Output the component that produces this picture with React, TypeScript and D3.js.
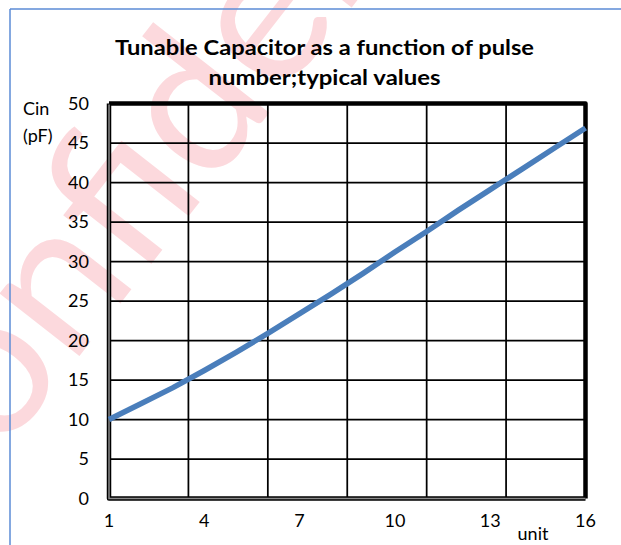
import React from "react";
import * as d3 from "d3";

const pulses = [1, 2, 3, 4, 5, 6, 7, 8, 9, 10, 11, 12, 13, 14, 15, 16];
const capacitance = [10, 12.0, 14.0, 16.2, 18.5, 20.9, 23.4, 25.9, 28.5, 31.2, 33.8, 36.5, 39.1, 41.7, 44.3, 46.9];
const xTickLabels = [1, 4, 7, 10, 13, 16];
const xGridValues = [3.5, 6, 8.5, 11, 13.5];
const yTickValues = [0, 5, 10, 15, 20, 25, 30, 35, 40, 45, 50];
const titleLines = ["Tunable Capacitor as a function of pulse", "number;typical values"];
const yAxisTitle = ["Cin", "(pF)"];
const xAxisTitle = "unit";
const watermark = "Confidential";

const W = 621;
const H = 545;
const FONT = "Lato, 'Open Sans', sans-serif";

export default function App() {
  const x = d3.scaleLinear().domain([1, 16]).range([109, 585.5]);
  const y = d3.scaleLinear().domain([0, 50]).range([498.5, 103.5]);
  const line = d3
    .line<number>()
    .x((_, i) => x(pulses[i]))
    .y((d) => y(d))
    .curve(d3.curveLinear);

  const x0 = x(1), x1 = x(16), y0 = y(0), y1 = y(50);

  return (
    <svg
      width={W}
      height={H}
      style={{ position: "absolute", left: 0, top: 0, background: "#fff" }}
      fontFamily={FONT}
    >
      <rect x={0} y={0} width={W} height={H} fill="#fff" />
      {/* watermark */}
      <text
        transform={`translate(-80,560) rotate(-52)`}
        fontSize={200}
        fill="#fcd9dd"
        fontFamily={FONT}
      >
        {watermark}
      </text>
      {/* outer chart frame */}
      <line x1={10} y1={9} x2={W} y2={9} stroke="#5b8bd6" strokeWidth={1.5} />
      <line x1={10} y1={9} x2={10} y2={H} stroke="#5b8bd6" strokeWidth={1.5} />

      {/* title */}
      {titleLines.map((t, i) => (
        <text
          key={t}
          x={324.5}
          y={55 + i * 30}
          textAnchor="middle"
          fontWeight="bold"
          fontSize={20}
          fill="#000"
          textLength={i === 0 ? 419 : 232}
          lengthAdjust="spacingAndGlyphs"
        >
          {t}
        </text>
      ))}

      {/* horizontal gridlines */}
      {yTickValues.slice(1, -1).map((v) => (
        <line key={"h" + v} x1={x0} x2={x1} y1={y(v)} y2={y(v)} stroke="#000" strokeWidth={1.75} />
      ))}
      {/* vertical gridlines */}
      {xGridValues.map((v) => (
        <line key={"v" + v} x1={x(v)} x2={x(v)} y1={y1} y2={y0} stroke="#000" strokeWidth={1.75} />
      ))}

      {/* plot border (top/right) */}
      <path
        d={`M${x0},${y1} L${x1},${y1} L${x1},${y0}`}
        fill="none"
        stroke="#000"
        strokeWidth={4.5}
        strokeLinejoin="round"
      />
      {/* axes */}
      <path
        d={`M${x0},${y1} L${x0},${y0} L${x1},${y0}`}
        fill="none"
        stroke="#000"
        strokeWidth={4.5}
        strokeLinejoin="round"
      />
      <path
        d={`M${x0},${y1 + 1} L${x0},${y0} L${x1},${y0}`}
        fill="none"
        stroke="#8a8a8a"
        strokeWidth={1.5}
      />

      {/* data line */}
      <path
        d={line(capacitance) || ""}
        fill="none"
        stroke="#4a7ebb"
        strokeWidth={5.5}
        strokeLinejoin="round"
        strokeLinecap="butt"
      />

      {/* y tick labels */}
      {yTickValues.map((v) => (
        <text key={"yl" + v} x={89} y={y(v)} dy="0.35em" textAnchor="end" fontSize={18} fill="#000">
          {v}
        </text>
      ))}
      {/* x tick labels */}
      {xTickLabels.map((v) => (
        <text key={"xl" + v} x={x(v)} y={527} textAnchor="middle" fontSize={18} fill="#000">
          {v}
        </text>
      ))}

      {/* axis titles */}
      {yAxisTitle.map((t, i) => (
        <text key={t} x={23} y={115 + i * 27} fontSize={18} fill="#000">
          {t}
        </text>
      ))}
      <text x={533} y={540} textAnchor="middle" fontSize={18} fill="#000">
        {xAxisTitle}
      </text>
    </svg>
  );
}
